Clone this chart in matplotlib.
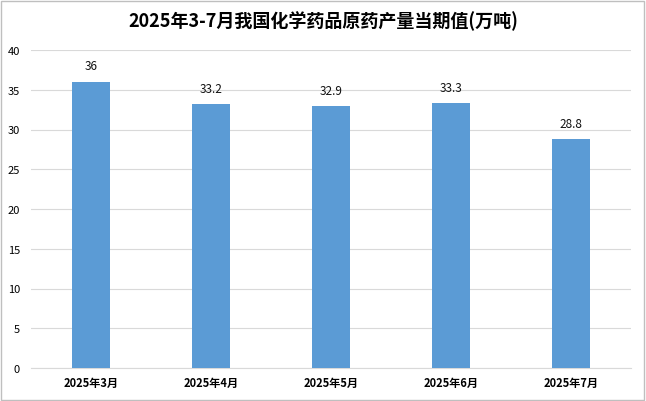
import matplotlib.pyplot as plt
import numpy as np

plt.rcParams['font.family'] = ['Noto Sans CJK SC', 'DejaVu Sans']

months = ['2025年3月', '2025年4月', '2025年5月', '2025年6月', '2025年7月']
output = [36, 33.2, 32.9, 33.3, 28.8]
title = '2025年3-7月我国化学药品原药产量当期值(万吨)'

fig = plt.figure(figsize=(6.46, 4.02), dpi=100)
ax = fig.add_axes([31 / 646, 33 / 402, 600 / 646, 318 / 402])

x = np.arange(len(months))
bars = ax.bar(x, output, width=0.32, color='#5b9bd5', zorder=3)
for xi, v in zip(x, output):
    ax.text(xi, v + 1.2, f'{v:g}', ha='center', va='bottom', fontsize=8.5, color='#111111')

ax.set_xlim(-0.5, len(months) - 0.5)
ax.set_ylim(0, 40)
ax.set_yticks(range(0, 41, 5))
ax.set_xticks(x)
ax.set_xticklabels(months, fontsize=8, fontweight='bold')
ax.tick_params(axis='y', labelsize=8, length=0, pad=8)
ax.tick_params(axis='x', length=0, pad=6)
ax.grid(axis='y', color='#d9d9d9', linewidth=0.8, zorder=0)
for s in ['top', 'right', 'left']:
    ax.spines[s].set_visible(False)
ax.spines['bottom'].set_color('#d9d9d9')

fig.text(0.5, 1 - 21 / 402, title, ha='center', va='center', fontsize=13, fontweight='bold')

fig.patches.append(plt.Rectangle((0.002, 0.003), 0.995, 0.993, transform=fig.transFigure,
                                 fill=False, edgecolor='#bfbfbf', linewidth=1))

fig.savefig('out.png', dpi=100)
